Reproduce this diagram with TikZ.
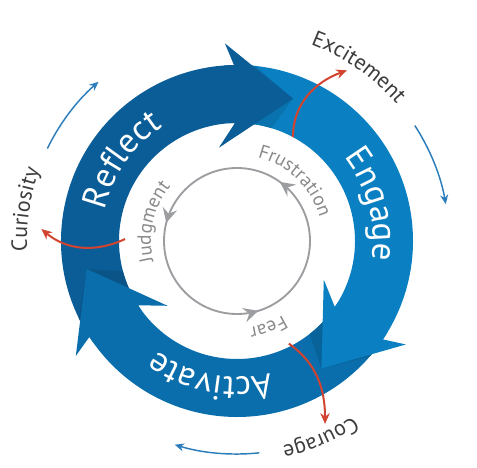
\documentclass[tikz,border=0pt]{standalone}
\usepackage{fontspec}
\setmainfont{PT Sans}
\newfontfamily\bandfam[LetterSpace=8]{PT Sans}
\newfontfamily\lblfam[LetterSpace=12]{PT Sans}
\newcommand\bandfont{\bandfam\fontsize{26}{30}\selectfont}
\newcommand\outerfont{\lblfam\fontsize{16.5}{19}\selectfont}
\newcommand\innerfont{\lblfam\fontsize{14.5}{17}\selectfont}
\usetikzlibrary{arrows.meta,decorations.text,decorations.markings}
\definecolor{reflect}{HTML}{0B5D97}
\definecolor{engage}{HTML}{0A80C2}
\definecolor{activate}{HTML}{0A6EAC}
\definecolor{redarr}{HTML}{D2442F}
\definecolor{bluearr}{HTML}{2C7DBB}
\definecolor{ringgray}{HTML}{9C9DA0}
\definecolor{txtgray}{HTML}{8A8A8C}
\definecolor{txtdark}{HTML}{3C3C3C}

\begin{document}
\begin{tikzpicture}[x=0.75pt,y=0.75pt,
  redarrow/.style={redarr,line width=1.5pt,-{Stealth[length=8pt,width=7pt]}},
  bluearrow/.style={bluearr,line width=1.1pt,-{Stealth[length=7pt,width=6pt]}},
  grayhead/.tip={Stealth[length=11pt,width=11pt,inset=4pt]},
  bandlbl/.style={decorate,decoration={text along path,text align=center,
    text color=white,text={|\bandfont|#1}}},
  outerlbl/.style={decorate,decoration={text along path,text align=center,
    text color=txtdark,text={|\outerfont|#1}}},
  innerlbl/.style={decorate,decoration={text along path,text align=center,
    text color=txtgray,text={|\innerfont|#1}}}]
\useasboundingbox (-237,-226) rectangle (240,241);

% ring of three arrows: bodies, shade under the heads, heads
\foreach \col/\tl/\nt in {reflect/213/91,engage/91/-34,activate/-34/-147}
  \fill[\col] (\tl:176) arc[start angle=\tl,end angle=\nt,radius=176]
    -- (\nt:118) arc[start angle=\nt,end angle=\tl,radius=118] -- cycle;
\foreach \col/\tl in {reflect/213,engage/91,activate/-34}
  \fill[\col!90!black] (\tl:176) arc[start angle=\tl,end angle=\tl-7,radius=176]
    -- ({\tl-22.5}:153) -- ({\tl-18}:118)
    arc[start angle=\tl-18,end angle=\tl,radius=118] -- cycle;
\foreach \col/\nt in {reflect/91,engage/-34,activate/-147}
  \fill[\col] ({\nt+3}:176) arc[start angle=\nt+3,end angle=\nt,radius=176]
    -- ({\nt+2.5}:198) -- ({\nt-22.5}:153) -- ({\nt+10}:95)
    -- (\nt:118) arc[start angle=\nt,end angle=\nt+3,radius=118] -- cycle;

\path[bandlbl=Reflect] (205:136) arc[start angle=205,end angle=85,radius=136];
\path[bandlbl=Engage] (75:136) arc[start angle=75,end angle=-45,radius=136];
\path[bandlbl=Activate] (-41:136) arc[start angle=-41,end angle=-161,radius=136];

% inner grey cycle
\draw[ringgray,line width=1.4pt,postaction={decorate},decoration={markings,
    mark=at position 0.15 with {\arrow{grayhead}},
    mark=at position 0.46 with {\arrow{grayhead}},
    mark=at position 0.797 with {\arrow{grayhead}}}]
  (73,0) arc[start angle=0,end angle=360,radius=73];
\path[innerlbl=Frustration] (96:86) arc[start angle=96,end angle=-4,radius=86];
\path[innerlbl=Judgment] (217:86) arc[start angle=217,end angle=117,radius=86];
\path[innerlbl=Fear] (-20:87) arc[start angle=-20,end angle=-120,radius=87];

% outer labels and turning arrows
\path[outerlbl=Excitement] (95:210) arc[start angle=95,end angle=15,radius=210];
\path[outerlbl=Courage] (-27:210) arc[start angle=-27,end angle=-107,radius=210];
\path[outerlbl=Curiosity] (211.5:210) arc[start angle=211.5,end angle=131.5,radius=210];
\draw[bluearrow] (154:211) arc[start angle=154,end angle=131,radius=211];
\draw[bluearrow] (33:212) arc[start angle=33,end angle=10,radius=212];
\draw[bluearrow] (-84:213) arc[start angle=-84,end angle=-107,radius=213];

% red way out of each stage
\coordinate (exc-a) at (61.7:118);
\coordinate (exc-b) at (57.2:203);
\coordinate (cur-a) at (179:112);
\coordinate (cur-b) at (176.5:196);
\coordinate (cou-a) at (-63.2:115);
\coordinate (cou-b) at (-64.3:203);
\draw[redarrow] (exc-a) to[out=90,in=200] (exc-b);
\draw[redarrow] (cur-a) to[out=205,in=-40] (cur-b);
\draw[redarrow] (cou-a) to[out=-35,in=90] (cou-b);
\end{tikzpicture}
\end{document}
